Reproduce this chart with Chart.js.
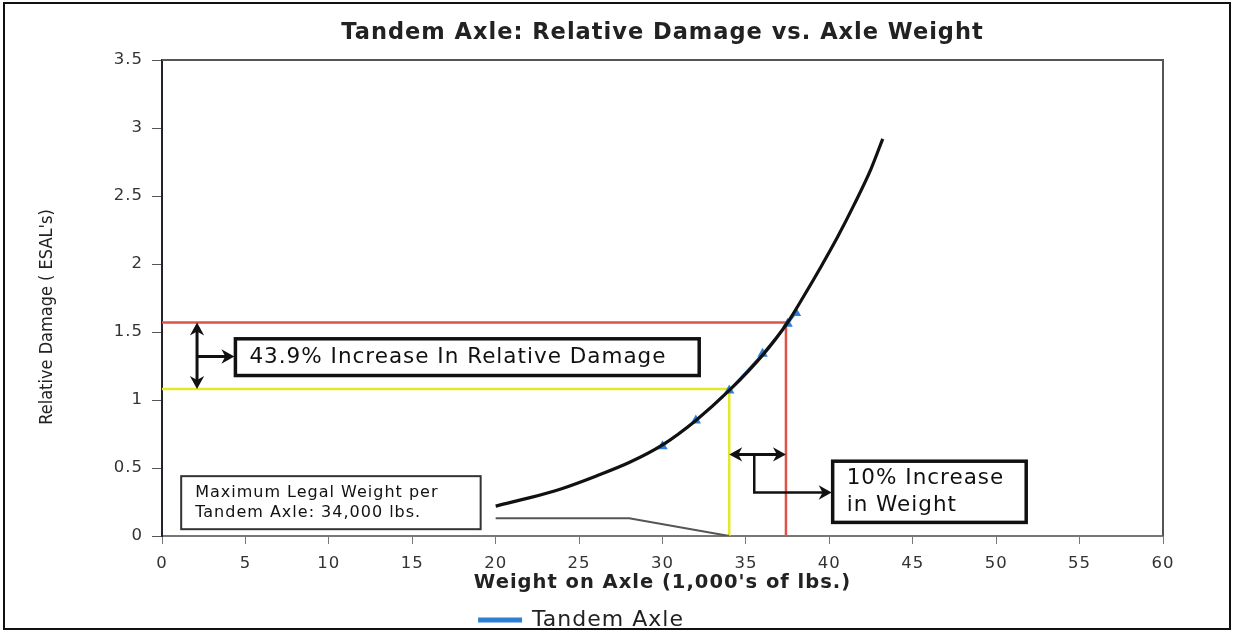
<!DOCTYPE html>
<html>
<head>
<meta charset="utf-8">
<script src="https://cdn.jsdelivr.net/npm/chart.js@4.4.0/dist/chart.umd.min.js"></script>
<style>
  html, body { margin: 0; padding: 0; background: #fff; }
  #wrap { width: 1234px; height: 633px; }
</style>
</head>
<body>
<div id="wrap"><canvas id="chart" width="1234" height="633"></canvas></div>
<script>
// black trend curve
const trendWeight = [20, 22, 24, 26, 28, 30, 32, 34, 36, 37.5, 38.5, 39.5, 40.5, 41.5, 42.5, 43.2];
const trendDamage = [0.22, 0.28, 0.35, 0.44, 0.54, 0.67, 0.85, 1.07, 1.33, 1.57, 1.77, 1.98, 2.2, 2.44, 2.7, 2.92];

// blue "Tandem Axle" points
const axleWeight = [30, 32, 34, 36, 37.5, 38];
const axleDamage = [0.66, 0.85, 1.07, 1.34, 1.56, 1.64];

// thin grey line near the bottom
const greyWeight = [20, 28, 34];
const greyDamage = [0.13, 0.13, 0];

// legal limit and +10% guide lines
const legalWeight = 34;
const legalDamage = 1.08;
const plusWeight = 37.4;
const plusDamage = 1.57;

const xMin = 0, xMax = 60, xStep = 5;
const yMin = 0, yMax = 3.5, yStep = 0.5;

const pts = (xs, ys) => xs.map((x, i) => ({ x: x, y: ys[i] }));

// callout boxes, in data units
const notes = [
  { x0: 4.4, x1: 32.2, y0: 1.45, y1: 1.18, width: 3.5, color: "#111",
    font: "21.5px 'DejaVu Sans'", lineGap: 0, lines: ["43.9% Increase In Relative Damage"] },
  { x0: 1.15, x1: 19.1, y0: 0.44, y1: 0.05, width: 2, color: "#333",
    font: "16px 'DejaVu Sans'", lineGap: 20, lines: ["Maximum Legal Weight per", "Tandem Axle: 34,000 lbs."] },
  { x0: 40.2, x1: 51.8, y0: 0.55, y1: 0.10, width: 3.5, color: "#111",
    font: "21.5px 'DejaVu Sans'", lineGap: 27, lines: ["10% Increase", "in Weight"] },
];

const SPACING = "1px";

function head(ctx, x, y, ang, size) {
  ctx.save();
  ctx.translate(x, y);
  ctx.rotate(ang);
  ctx.beginPath();
  ctx.moveTo(0, 0);
  ctx.lineTo(-size, -size * 0.55);
  ctx.lineTo(-size * 0.7, 0);
  ctx.lineTo(-size, size * 0.55);
  ctx.closePath();
  ctx.fill();
  ctx.restore();
}

const frame = {
  id: "frame",
  beforeUpdate(chart) {
    chart.ctx.letterSpacing = SPACING;
  },
  beforeDraw(chart) {
    const ctx = chart.ctx;
    ctx.letterSpacing = SPACING;
    ctx.save();
    ctx.fillStyle = "#fff";
    ctx.fillRect(0, 0, chart.width, chart.height);
    ctx.strokeStyle = "#111";
    ctx.lineWidth = 2;
    ctx.strokeRect(4, 3, 1226, 626);
    // y axis title, condensed
    ctx.letterSpacing = "0px";
    ctx.translate(47, 317);
    ctx.rotate(-Math.PI / 2);
    ctx.fillStyle = "#222";
    ctx.font = "18px 'Liberation Sans Narrow', 'DejaVu Sans Condensed', sans-serif";
    ctx.textAlign = "center";
    ctx.textBaseline = "middle";
    ctx.fillText("Relative Damage ( ESAL's)", 0, 0);
    ctx.restore();
  },
  afterDatasetsDraw(chart) {
    const ctx = chart.ctx;
    const a = chart.chartArea;
    const px = (v) => chart.scales.x.getPixelForValue(v);
    const py = (v) => chart.scales.y.getPixelForValue(v);
    ctx.save();
    // top and right border of the plot
    ctx.strokeStyle = "#555";
    ctx.lineWidth = 2;
    ctx.beginPath();
    ctx.moveTo(a.left, a.top);
    ctx.lineTo(a.right, a.top);
    ctx.lineTo(a.right, a.bottom);
    ctx.stroke();

    // boxes
    notes.forEach((n) => {
      const l = px(n.x0), r = px(n.x1), t = py(n.y0), b = py(n.y1);
      ctx.fillStyle = "#fff";
      ctx.fillRect(l, t, r - l, b - t);
      ctx.strokeStyle = n.color;
      ctx.lineWidth = n.width;
      ctx.strokeRect(l, t, r - l, b - t);
      ctx.fillStyle = "#111";
      ctx.font = n.font;
      ctx.textBaseline = "middle";
      ctx.textAlign = "left";
      const mid = (t + b) / 2 - (n.lines.length - 1) * n.lineGap / 2;
      n.lines.forEach((s, i) => ctx.fillText(s, l + 14, mid + i * n.lineGap));
    });

    // damage arrow (vertical, both ends) and pointer to box 1
    ctx.strokeStyle = "#111";
    ctx.fillStyle = "#111";
    ctx.lineWidth = 3;
    const ax = px(2.1), aTop = py(plusDamage), aBot = py(legalDamage);
    ctx.beginPath();
    ctx.moveTo(ax, aTop + 6);
    ctx.lineTo(ax, aBot - 6);
    ctx.stroke();
    head(ctx, ax, aTop, -Math.PI / 2, 13);
    head(ctx, ax, aBot, Math.PI / 2, 13);
    const ay = py(1.32);
    ctx.beginPath();
    ctx.moveTo(ax, ay);
    ctx.lineTo(px(notes[0].x0) - 6, ay);
    ctx.stroke();
    head(ctx, px(notes[0].x0) - 1, ay, 0, 13);

    // weight arrow (horizontal, both ends) and bracket to box 3
    const wy = py(0.6), wl = px(legalWeight), wr = px(plusWeight);
    ctx.beginPath();
    ctx.moveTo(wl + 6, wy);
    ctx.lineTo(wr - 6, wy);
    ctx.stroke();
    head(ctx, wl, wy, Math.PI, 13);
    head(ctx, wr, wy, 0, 13);
    const bx = px(35.5), by = py(0.32);
    ctx.lineWidth = 2.5;
    ctx.beginPath();
    ctx.moveTo(bx, wy);
    ctx.lineTo(bx, by);
    ctx.lineTo(px(notes[2].x0) - 6, by);
    ctx.stroke();
    head(ctx, px(notes[2].x0) - 1, by, 0, 13);
    ctx.restore();
  }
};

new Chart(document.getElementById("chart"), {
  type: "line",
  data: {
    datasets: [
      { label: "Tandem Axle", data: pts(axleWeight, axleDamage), borderColor: "#2f7fd6",
        backgroundColor: "#2f7fd6", borderWidth: 2, pointStyle: "triangle", pointRadius: 6,
        pointBorderWidth: 0, order: 3 },
      { label: "trend", data: pts(trendWeight, trendDamage), borderColor: "#111",
        borderWidth: 3.2, pointRadius: 0, cubicInterpolationMode: "monotone", order: 2 },
      { label: "grey", data: pts(greyWeight, greyDamage), borderColor: "#555",
        borderWidth: 2, pointRadius: 0, order: 4 },
      { label: "plus10", data: pts([xMin, plusWeight, plusWeight], [plusDamage, plusDamage, 0]),
        borderColor: "#de5349", borderWidth: 2.5, pointRadius: 0, order: 5 },
      { label: "legal", data: pts([xMin, legalWeight, legalWeight], [legalDamage, legalDamage, 0]),
        borderColor: "#e6e62a", borderWidth: 2.5, pointRadius: 0, order: 5 },
    ]
  },
  options: {
    responsive: false,
    animation: false,
    layout: { padding: { left: 0, right: 71, top: 0, bottom: -8 } },
    plugins: {
      title: {
        display: true, fullSize: false,
        text: "Tandem Axle: Relative Damage vs. Axle Weight",
        color: "#222",
        font: { family: "'DejaVu Sans'", size: 22.5, weight: "bold", lineHeight: 1.2 },
        padding: { top: 20, bottom: 13 }
      },
      legend: {
        position: "bottom",
        labels: {
          filter: (item) => item.text === "Tandem Axle",
          color: "#222",
          font: { family: "'DejaVu Sans'", size: 22 },
          boxWidth: 42, boxHeight: 3, padding: 9
        }
      },
      tooltip: { enabled: false }
    },
    scales: {
      x: {
        type: "linear", min: xMin, max: xMax,
        ticks: { stepSize: xStep, color: "#333", padding: 10,
          font: { family: "'DejaVu Sans'", size: 16.5 } },
        grid: { drawOnChartArea: false, tickLength: 8, color: "#777" },
        border: { color: "#777", width: 2 },
        title: { display: true, text: "Weight on Axle (1,000's of lbs.)", color: "#222",
          font: { family: "'DejaVu Sans'", size: 19.5, weight: "bold" }, padding: { top: 0, bottom: 5 } },
        afterFit: (s) => { s.height = 64; }
      },
      y: {
        min: yMin, max: yMax,
        ticks: { stepSize: yStep, color: "#333", padding: 9,
          font: { family: "'DejaVu Sans'", size: 16.5 },
          callback: (v) => String(Math.round(v * 10) / 10) },
        grid: { drawOnChartArea: false, tickLength: 10, color: "#555" },
        border: { color: "#223", width: 2 },
        title: { display: false },
        afterFit: (s) => { s.width = 162; }
      }
    }
  },
  plugins: [frame]
});
</script>
</body>
</html>
